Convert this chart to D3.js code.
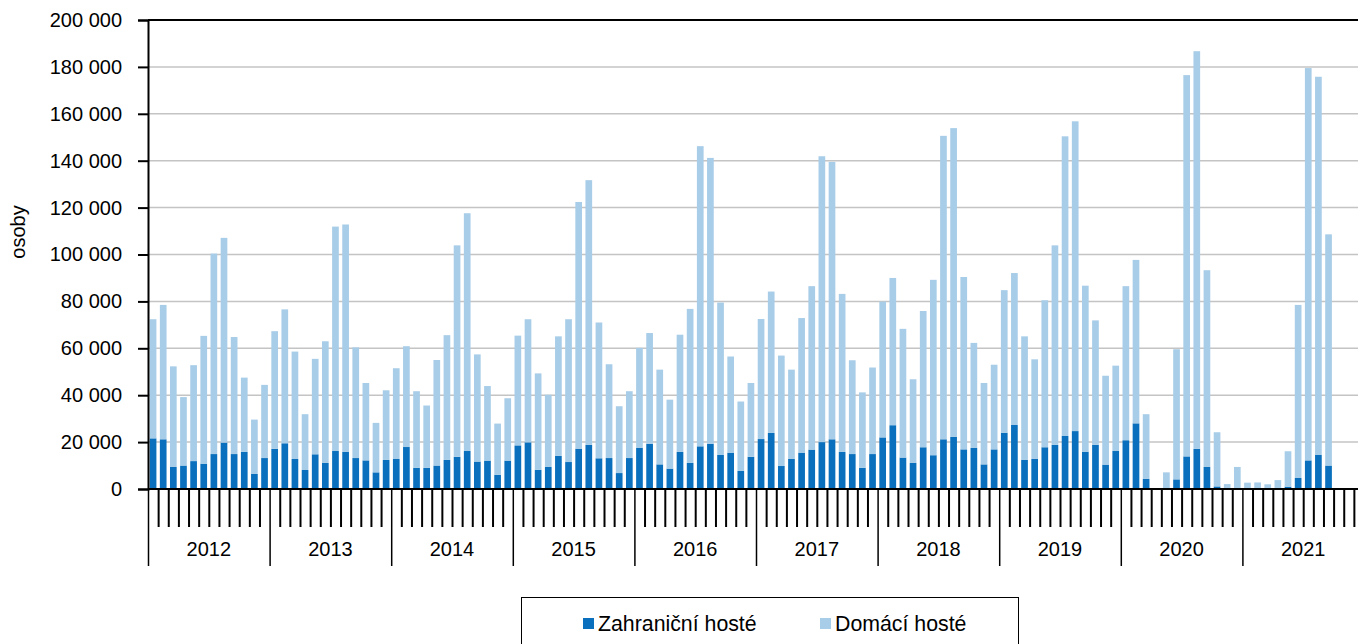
<!DOCTYPE html>
<html>
<head>
<meta charset="utf-8">
<script src="https://cdn.jsdelivr.net/npm/d3@7/dist/d3.min.js"></script>
<style>
  html, body { margin: 0; padding: 0; background: #fff; }
  svg { display: block; }
  text { font-family: "Liberation Sans", Arial, Helvetica, sans-serif; fill: #000; }
</style>
</head>
<body>
<svg id="chart" width="1358" height="644"></svg>
<script>
const years = ["2012","2013","2014","2015","2016","2017","2018","2019","2020","2021"];
const months = ["1","2","3","4","5","6","7","8","9","10","11","12"];
const seriesNames = ["Zahraniční hosté", "Domácí hosté"];
const yTicks = [0, 20000, 40000, 60000, 80000, 100000, 120000, 140000, 160000, 180000, 200000];
const yTitle = "osoby";

// Zahraniční hosté (foreign guests), monthly 2012–2021
const foreign = [
  21600, 21200, 9400, 10000, 11900, 10800, 14900, 19800, 14900, 15900, 6400, 13200,
  17100, 19500, 12800, 8100, 14800, 11100, 16200, 15800, 13200, 12200, 7100, 12400,
  12800, 17900, 9000, 9000, 10000, 12400, 13700, 16200, 11700, 12100, 6000, 12100,
  18600, 19900, 8200, 9400, 14100, 11500, 17200, 18800, 13100, 13200, 6800, 13200,
  17500, 19300, 10500, 8700, 15800, 11100, 18200, 19300, 14500, 15500, 7700, 13700,
  21300, 23900, 9800, 12800, 15500, 16800, 20000, 21200, 15800, 14900, 9000, 14900,
  22000, 27200, 13400, 11100, 17800, 14400, 21200, 22200, 16900, 17500, 10500, 16900,
  24000, 27300, 12500, 12800, 17800, 18800, 22600, 24700, 15900, 18800, 10400, 16200,
  20800, 28000, 4300, 0, 100, 4100, 13900, 17100, 9400, 1100, 100, 200,
  100, 100, 100, 100, 1000, 4700, 12200, 14500, 10000, null, null, null
];
// Domácí hosté (domestic guests), monthly 2012–2021
const domestic = [
  50800, 57300, 42900, 29200, 40900, 54500, 85500, 87300, 49900, 31600, 23200, 31200,
  50200, 57100, 45800, 23800, 40700, 51900, 95700, 97000, 47200, 33000, 21100, 29700,
  38700, 43000, 32700, 26600, 45000, 53200, 90200, 101400, 45700, 31800, 21900, 26600,
  46800, 52500, 41100, 30800, 51000, 60900, 105200, 112900, 57900, 40000, 28500, 28500,
  42700, 47200, 40400, 29400, 50000, 65700, 128000, 121900, 65000, 41000, 29600, 31500,
  51200, 60300, 47100, 38100, 57400, 69700, 121900, 118300, 67400, 40000, 32200, 36900,
  57900, 62800, 54900, 35700, 58100, 74800, 129400, 131700, 73500, 44800, 34700, 36100,
  60800, 64800, 52600, 42500, 62700, 85100, 127800, 132100, 70800, 53100, 37900, 36400,
  65700, 69700, 27600, 0, 7000, 55500, 162600, 169600, 83900, 23100, 2000, 9200,
  2600, 2700, 1900, 3700, 15100, 73800, 167300, 161300, 98600, null, null, null
];

const colors = ["#0a70bd", "#a8cde8"];

const categories = years.flatMap(y => months.map(m => y + "-" + m));
const table = categories.map((c, i) => ({
  cat: c,
  [seriesNames[0]]: foreign[i] == null ? 0 : foreign[i],
  [seriesNames[1]]: domestic[i] == null ? 0 : domestic[i]
}));

const svg = d3.select("#chart");
const mLeft = 148, mRight = 1364, mTop = 20, mBottom = 489;
const FONT = 20;

const x = d3.scaleBand().domain(categories).range([mLeft, mRight]).paddingInner(0.34).paddingOuter(0.17);
const y = d3.scaleLinear().domain([0, 200000]).range([mBottom, mTop]);
const xi = d3.scaleLinear().domain([0, categories.length]).range([mLeft, mRight]);
const yearScale = d3.scaleBand().domain(years).range([mLeft, mRight]);

// gridlines
svg.append("g").selectAll("line").data(yTicks.filter(t => t > 0)).join("line")
  .attr("x1", mLeft).attr("x2", 1358)
  .attr("y1", d => y(d)).attr("y2", d => y(d))
  .attr("stroke", d => d === 200000 ? "#000" : "#c4c4c4")
  .attr("stroke-width", d => d === 200000 ? 2 : 1.5);

// bars
const stack = d3.stack().keys(seriesNames)(table);
svg.append("g").selectAll("g").data(stack).join("g")
  .attr("fill", (d, i) => colors[i])
  .selectAll("rect").data(d => d).join("rect")
  .attr("x", d => x(d.data.cat))
  .attr("width", x.bandwidth())
  .attr("y", d => y(d[1]))
  .attr("height", d => Math.max(0, y(d[0]) - y(d[1])));

// y axis
const fmt = d3.formatLocale({decimal: ",", thousands: " ", grouping: [3], currency: ["", ""]}).format(",");
const yAxis = svg.append("g").attr("transform", `translate(${mLeft},0)`)
  .call(d3.axisLeft(y).tickValues(yTicks).tickSize(10).tickPadding(16).tickFormat(fmt));
yAxis.select(".domain").attr("stroke", "#000").attr("stroke-width", 2);
yAxis.selectAll(".tick line").attr("stroke", "#000").attr("stroke-width", 2);
yAxis.selectAll("text").style("font-size", FONT + "px").attr("fill", "#000").attr("font-family", null);

// month ticks
const xAxis = svg.append("g").attr("transform", `translate(0,${mBottom})`)
  .call(d3.axisBottom(xi).tickValues(d3.range(0, categories.length + 1).filter(i => i % 12 !== 0))
    .tickSize(38).tickFormat(""));
xAxis.select(".domain").remove();
xAxis.selectAll(".tick line").attr("stroke", "#000").attr("stroke-width", 2);

// year boundary ticks and labels
const yAx = svg.append("g").attr("transform", `translate(0,${mBottom})`)
  .call(d3.axisBottom(xi).tickValues(d3.range(0, categories.length + 1, 12)).tickSize(77).tickFormat(""));
yAx.select(".domain").remove();
yAx.selectAll(".tick line").attr("stroke", "#000").attr("stroke-width", 1.5);

const yl = svg.append("g").attr("transform", `translate(0,${mBottom})`)
  .call(d3.axisBottom(yearScale).tickSize(0).tickPadding(53));
yl.select(".domain").remove();
yl.selectAll("text").style("font-size", FONT + "px").attr("fill", "#000").attr("font-family", null);

// baseline
svg.append("line").attr("x1", mLeft).attr("x2", 1358).attr("y1", y(0)).attr("y2", y(0))
  .attr("stroke", "#000").attr("stroke-width", 2);

// y title
svg.append("text").attr("transform", "translate(25,232) rotate(-90)")
  .attr("text-anchor", "middle").style("font-size", FONT + "px").text(yTitle);

// legend
const lg = svg.append("g");
lg.append("rect").attr("x", 521.5).attr("y", 597.5).attr("width", 497).attr("height", 60)
  .attr("fill", "#fff").attr("stroke", "#000").attr("stroke-width", 1);
const legX = [583, 820];
seriesNames.forEach((s, i) => {
  lg.append("rect").attr("x", legX[i]).attr("y", 618).attr("width", 11).attr("height", 11).attr("fill", colors[i]);
  lg.append("text").attr("x", legX[i] + 15).attr("y", 631).style("font-size", "21.3px").text(s);
});
</script>
</body>
</html>
